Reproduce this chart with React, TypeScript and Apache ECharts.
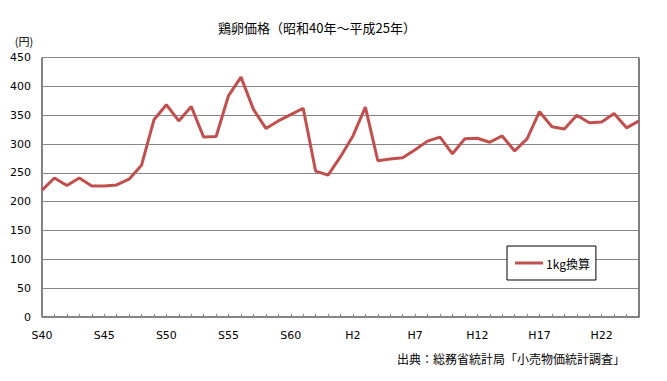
import React, { useEffect, useRef } from "react";
import * as echarts from "echarts";

const categories = [
  "S40", "S41", "S42", "S43", "S44", "S45", "S46", "S47", "S48", "S49",
  "S50", "S51", "S52", "S53", "S54", "S55", "S56", "S57", "S58", "S59",
  "S60", "S61", "S62", "S63", "H1", "H2", "H3", "H4", "H5", "H6",
  "H7", "H8", "H9", "H10", "H11", "H12", "H13", "H14", "H15", "H16",
  "H17", "H18", "H19", "H20", "H21", "H22", "H23", "H24", "H25",
];

const prices = [
  220, 241, 228, 241, 227, 227, 229, 239, 263, 342,
  368, 340, 365, 312, 313, 384, 416, 360, 327, 340,
  351, 362, 253, 246, 278, 314, 364, 271, 274, 276,
  290, 305, 312, 283, 309, 310, 303, 314, 288, 309,
  356, 330, 326, 350, 337, 338, 353, 328, 340,
];

const yTicks = { min: 0, max: 450, interval: 50 };

const titleText = "鶏卵価格（昭和40年～平成25年）";
const unitText = "(円)";
const seriesName = "1kg換算";
const sourceText = "出典：総務省統計局「小売物価統計調査」";

const JP = '"Noto Sans CJK JP", "Noto Sans", sans-serif';
const LAT = '"DejaVu Sans", Verdana, sans-serif';

export default function App() {
  const ref = useRef<HTMLDivElement>(null);
  useEffect(() => {
    if (!ref.current) return;
    const chart = echarts.init(ref.current, undefined, { renderer: "svg" });
    chart.setOption({
      animation: false,
      backgroundColor: "#ffffff",
      grid: {
        left: 42,
        right: 28,
        top: 57.5,
        bottom: 64,
        show: true,
        borderColor: "#000000",
        borderWidth: 1,
        backgroundColor: "transparent",
        containLabel: false,
      },
      graphic: [
        {
          type: "text",
          x: 317,
          y: 27,
          style: {
            text: titleText,
            font: `13px ${JP}`,
            fill: "#000",
            align: "center",
            verticalAlign: "middle",
          },
        },
        {
          type: "text",
          x: 24,
          y: 41,
          style: {
            text: unitText,
            font: `11px ${JP}`,
            fill: "#000",
            align: "center",
            verticalAlign: "middle",
          },
        },
        {
          type: "text",
          x: 625,
          y: 358,
          style: {
            text: sourceText,
            font: `12px ${JP}`,
            fill: "#000",
            align: "right",
            verticalAlign: "middle",
          },
        },
      ],
      legend: {
        left: 507,
        top: 246,
        orient: "vertical",
        backgroundColor: "#ffffff",
        borderColor: "#000000",
        borderWidth: 1,
        borderRadius: 0,
        padding: [9, 6, 9, 8],
        itemWidth: 28,
        itemHeight: 3,
        itemGap: 0,
        textStyle: {
          fontFamily: JP,
          fontSize: 12,
          color: "#000",
          lineHeight: 16,
          padding: [0, 0, 0, -2],
        },
        data: [{ name: seriesName, icon: "rect", itemStyle: { color: "#C0504D" } }],
        itemStyle: { borderWidth: 0 },
        selectedMode: false,
      },
      xAxis: {
        type: "category",
        data: categories,
        boundaryGap: false,
        axisLine: { show: true, lineStyle: { color: "#868686", width: 1 } },
        axisTick: {
          show: true,
          inside: true,
          length: 3,
          interval: 0,
          lineStyle: { color: "#868686" },
        },
        axisLabel: {
          interval: 4,
          color: "#000",
          fontFamily: LAT,
          fontSize: 11,
          margin: 13,
        },
        splitLine: { show: false },
      },
      yAxis: {
        type: "value",
        min: yTicks.min,
        max: yTicks.max,
        interval: yTicks.interval,
        axisLine: { show: true, lineStyle: { color: "#868686", width: 1 } },
        axisTick: { show: false },
        axisLabel: {
          color: "#000",
          fontFamily: LAT,
          fontSize: 11,
          margin: 11,
        },
        splitLine: { show: true, lineStyle: { color: "#868686", width: 1 } },
      },
      series: [
        {
          name: seriesName,
          type: "line",
          data: prices,
          symbol: "none",
          lineStyle: { color: "#C0504D", width: 3 },
          itemStyle: { color: "#C0504D" },
          z: 3,
        },
      ],
    });
    return () => chart.dispose();
  }, []);
  return (
    <div
      ref={ref}
      style={{ position: "fixed", left: 0, top: 0, width: 667, height: 381 }}
    />
  );
}
